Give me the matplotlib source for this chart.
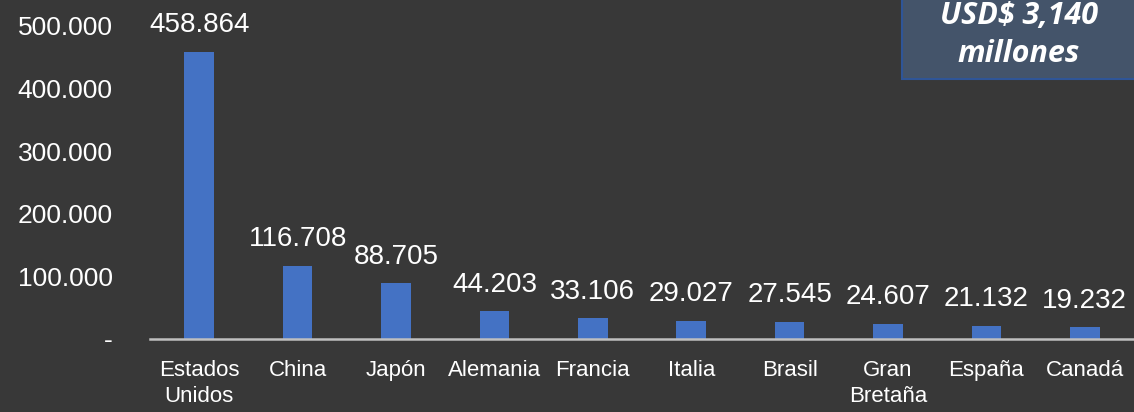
import matplotlib.pyplot as plt
from matplotlib.patches import Rectangle
import numpy as np

paises = ["Estados\nUnidos", "China", "Japón", "Alemania", "Francia",
          "Italia", "Brasil", "Gran\nBretaña", "España", "Canadá"]
valores = [458864, 116708, 88705, 44203, 33106, 29027, 27545, 24607, 21132, 19232]
yticks = [0, 100000, 200000, 300000, 400000, 500000]
ytick_labels = ["-", "100.000", "200.000", "300.000", "400.000", "500.000"]
total_txt = "USD$ 3,140\nmillones"

fondo = "#383838"
azul = "#4472c4"
fuente = ["Liberation Sans", "DejaVu Sans"]

fig = plt.figure(figsize=(11.34, 4.12), dpi=100, facecolor=fondo)
ax = fig.add_axes([150 / 1134, 73 / 412, 984 / 1134, 339 / 412])
ax.set_facecolor(fondo)

x = np.arange(len(paises))
ax.bar(x, valores, width=0.3, color=azul, zorder=2)

for xi, v in zip(x, valores):
    etiqueta = f"{v:,}".replace(",", ".")
    ax.annotate(etiqueta, (xi, v), xytext=(0, 14), textcoords="offset points",
                ha="center", va="baseline", color="white", fontsize=20,
                family=fuente)

ax.set_xlim(-0.5, len(paises) - 0.5)
ax.set_ylim(0, 541500)
ax.set_xticks(x)
ax.set_xticklabels(paises, color="white", fontsize=16, family=fuente,
                   linespacing=1.35)
ax.set_yticks(yticks)
ax.set_yticklabels(ytick_labels, color="white", fontsize=19, family=fuente)
ax.tick_params(axis="x", length=0, pad=15)
ax.tick_params(axis="y", length=0, pad=27)

for lado in ["top", "right", "left"]:
    ax.spines[lado].set_visible(False)
ax.spines["bottom"].set_color("#bfbfbf")
ax.spines["bottom"].set_linewidth(1.8)

# recuadro con el total
caja = Rectangle((902 / 1134, 1 - 79 / 412), 0.25, 0.3, transform=fig.transFigure,
                 facecolor="#44546a", edgecolor="#2f5597", linewidth=1.5,
                 zorder=5)
fig.patches.append(caja)
fig.text(1019 / 1134, 1 - 35 / 412, total_txt, ha="center", va="center",
         multialignment="center", color="white", fontsize=22,
         fontweight="bold", fontstyle="italic", family="Open Sans",
         linespacing=1.35, zorder=6)

fig.savefig("out.png", dpi=100, facecolor=fondo)
